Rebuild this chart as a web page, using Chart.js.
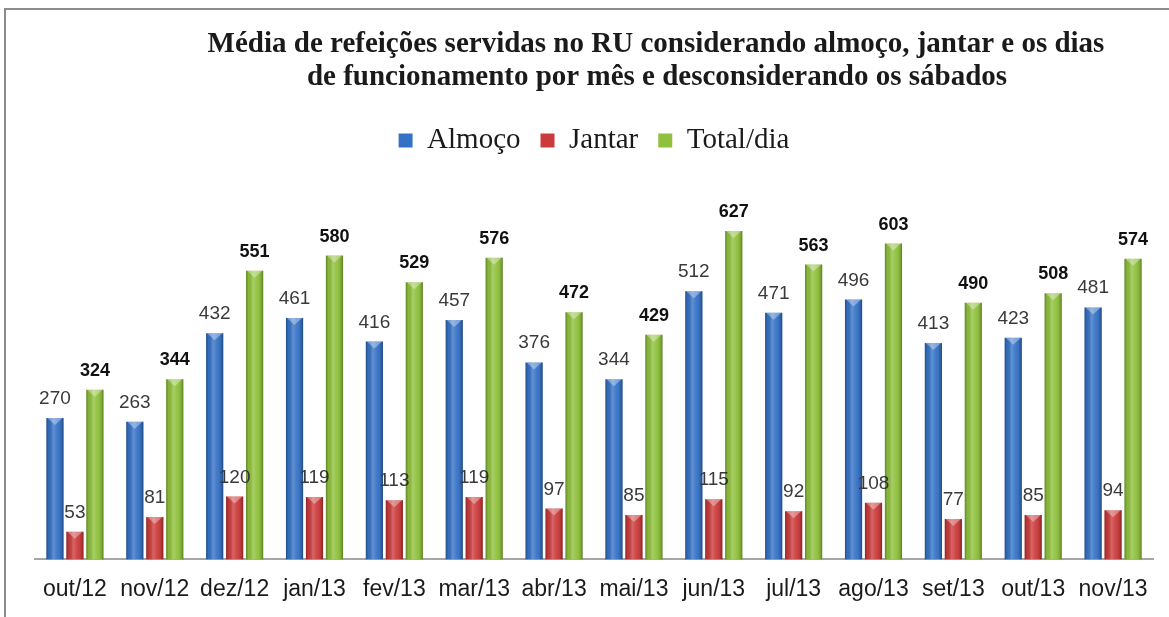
<!DOCTYPE html>
<html>
<head>
<meta charset="utf-8">
<script src="https://cdn.jsdelivr.net/npm/chart.js@4.4.1/dist/chart.umd.min.js"></script>
<style>
  html, body { margin: 0; padding: 0; background: #fff; }
  #wrap { width: 1169px; height: 617px; position: relative; }
</style>
</head>
<body>
<div id="wrap"><canvas id="c" width="1169" height="617"></canvas></div>
<script>
const categories = ['out/12','nov/12','dez/12','jan/13','fev/13','mar/13','abr/13','mai/13','jun/13','jul/13','ago/13','set/13','out/13','nov/13'];
const almoco = [270,263,432,461,416,457,376,344,512,471,496,413,423,481];
const jantar = [53,81,120,119,113,119,97,85,115,92,108,77,85,94];
const totalDia = [324,344,551,580,529,576,472,429,627,563,603,490,508,574];
const seriesNames = ['Almoço','Jantar','Total/dia'];
const titleLines = ['Média de refeições servidas no RU considerando almoço, jantar e os dias',
                    'de funcionamento por mês e desconsiderando os sábados'];

const decor = {
  id: 'decor',
  beforeDraw(chart) {
    const ctx = chart.ctx;
    ctx.save();
    ctx.fillStyle = '#fff';
    ctx.fillRect(0, 0, chart.width, chart.height);
    ctx.strokeStyle = '#8c8c8c';
    ctx.lineWidth = 2;
    ctx.beginPath();
    ctx.moveTo(5, chart.height);
    ctx.lineTo(5, 9);
    ctx.lineTo(chart.width, 9);
    ctx.stroke();
    ctx.fillStyle = '#1a1a1a';
    ctx.font = 'bold 29px "Liberation Serif", "Times New Roman", serif';
    ctx.textAlign = 'center';
    ctx.textBaseline = 'middle';
    ctx.fillText(titleLines[0], 656, 45);
    ctx.fillText(titleLines[1], 657, 78);
    ctx.restore();
  },
  afterDatasetsDraw(chart) {
    const ctx = chart.ctx;
    ctx.save();
    chart.data.datasets.forEach((ds, di) => {
      const meta = chart.getDatasetMeta(di);
      meta.data.forEach((bar, i) => {
        const w = bar.width, x0 = bar.x - w / 2, x1 = bar.x + w / 2;
        const top = bar.y, base = bar.base;
        const g = ctx.createLinearGradient(x0, 0, x1, 0);
        g.addColorStop(0, 'rgba(0,0,0,0.30)');
        g.addColorStop(0.15, 'rgba(0,0,0,0.05)');
        g.addColorStop(0.4, 'rgba(255,255,255,0.22)');
        g.addColorStop(0.65, 'rgba(255,255,255,0.05)');
        g.addColorStop(0.88, 'rgba(0,0,0,0.12)');
        g.addColorStop(1, 'rgba(0,0,0,0.35)');
        ctx.fillStyle = g;
        ctx.fillRect(x0, top, w, base - top);
        ctx.fillStyle = 'rgba(255,255,255,0.35)';
        ctx.beginPath();
        ctx.moveTo(x0 + 1, top);
        ctx.lineTo(x1 - 1, top);
        ctx.lineTo(bar.x, top + 7);
        ctx.closePath();
        ctx.fill();
        const v = ds.data[i];
        if (di === 2) {
          ctx.font = 'bold 18px "Liberation Sans", Arial, sans-serif';
          ctx.fillStyle = '#111';
        } else {
          ctx.font = '19px "Liberation Sans", Arial, sans-serif';
          ctx.fillStyle = '#3a3a3a';
        }
        ctx.textAlign = 'center';
        ctx.textBaseline = 'alphabetic';
        ctx.fillText(String(v), bar.x, top - 14);
      });
    });
    ctx.restore();
  }
};

const colors = ['#3572c6', '#cc3b3b', '#8fc13c'];
new Chart(document.getElementById('c'), {
  type: 'bar',
  data: {
    labels: categories,
    datasets: [
      { label: seriesNames[0], data: almoco, backgroundColor: colors[0] },
      { label: seriesNames[1], data: jantar, backgroundColor: colors[1] },
      { label: seriesNames[2], data: totalDia, backgroundColor: colors[2] }
    ]
  },
  options: {
    responsive: false,
    animation: false,
    devicePixelRatio: 1,
    layout: { padding: { top: 106, left: 35, right: 16, bottom: 6 } },
    datasets: { bar: { categoryPercentage: 0.75, barPercentage: 0.86, borderWidth: 0 } },
    plugins: {
      title: { display: false },
      tooltip: { enabled: false },
      legend: {
        display: true,
        position: 'top',
        labels: {
          boxWidth: 14, boxHeight: 14, padding: 20,
          color: '#1a1a1a',
          font: { family: '"Liberation Serif", "Times New Roman", serif', size: 29 }
        }
      }
    },
    scales: {
      x: {
        grid: { display: false },
        border: { display: true, color: '#a6a6a6', width: 2 },
        ticks: {
          color: '#1a1a1a', padding: 8,
          font: { family: '"Liberation Sans", Arial, sans-serif', size: 23 }
        }
      },
      y: { display: false, min: 0, max: 753 }
    }
  },
  plugins: [decor]
});
</script>
</body>
</html>
